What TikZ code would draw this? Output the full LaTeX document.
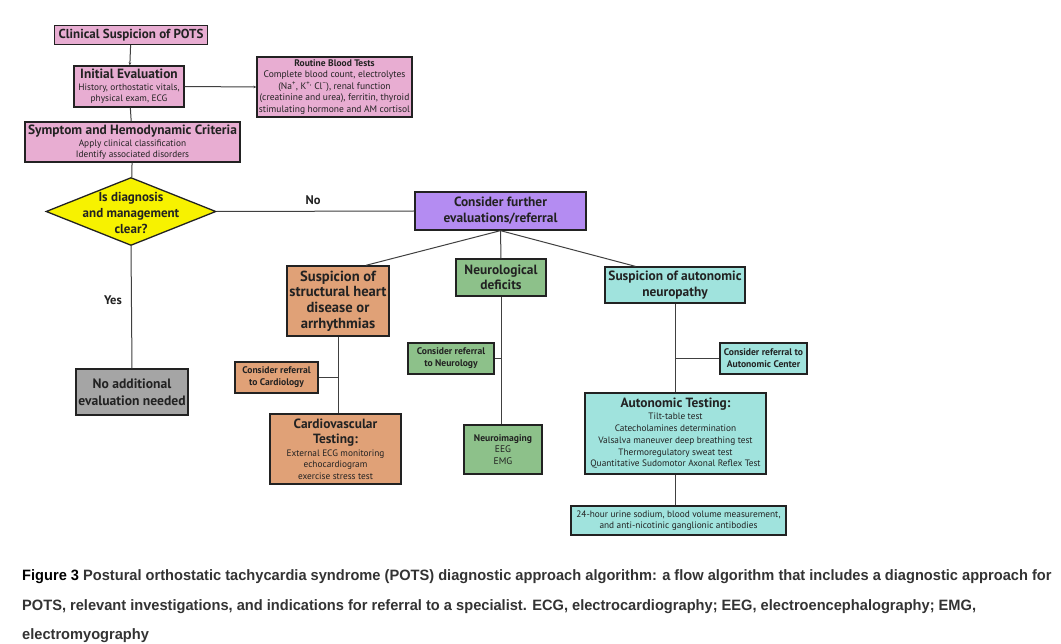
\documentclass[tikz,border=0pt]{standalone}
\usepackage{fontspec}
\setmainfont{PT Sans}
\newfontfamily\capfont[FakeStretch=0.975]{Liberation Sans}
\usetikzlibrary{shapes.geometric,calc,arrows.meta}
\definecolor{pinkf}{HTML}{E8ADD2}
\definecolor{yel}{HTML}{F7F200}
\definecolor{purp}{HTML}{B48CF2}
\definecolor{tanf}{HTML}{E0A177}
\definecolor{grn}{HTML}{8DC18A}
\definecolor{cyn}{HTML}{A0E3DD}
\definecolor{gry}{HTML}{A5A5A5}
\definecolor{ink}{HTML}{222222}
\newcommand\fs[2]{\fontsize{#1}{#2}\selectfont}
\newcommand\ttl{\fs{13.4}{15}\bfseries}
\newcommand\subt{\fs{9.3}{11.8}\mdseries}
\tikzset{
  box/.style={draw=ink, line width=1.3pt, inner sep=0pt, align=center, text=ink},
  conn/.style={draw=black!75, line width=1pt},
  tip/.style={-{Stealth[length=3pt,width=2.6pt]}},
  lbl/.style={inner sep=0pt, text=ink, font=\fs{12.5}{14}\bfseries},
  capline/.style={anchor=base west, inner sep=0pt, text=black!80, font=\capfont\fs{15}{18}\bfseries}
}
\begin{document}
\begin{tikzpicture}[x=1pt,y=-1pt]
\useasboundingbox[fill=white] (0,0) rectangle (1061,644);
% nodes
\node[box,fill=pinkf,minimum width=153pt,minimum height=19pt,font=\fs{13}{14}\bfseries] (clin) at (131,35)
  {Clinical Suspicion of POTS};
\node[box,fill=pinkf,minimum width=110pt,minimum height=41pt,font=\fs{9.3}{11}] (init) at (129,86.5)
  {\ttl Initial Evaluation\\[1pt]\subt History, orthostatic vitals,\\\subt physical exam, ECG};
\node[box,fill=pinkf,minimum width=155pt,minimum height=60pt,font=\fs{9.5}{11.5}] (routine) at (334.5,87)
  {\bfseries Routine Blood Tests\\Complete blood count, electrolytes\\(Na\textsuperscript{+}, K\textsuperscript{+,} Cl\textsuperscript{−}), renal function\\(creatinine and urea), ferritin, thyroid\\stimulating hormone and AM cortisol};
\node[box,fill=pinkf,minimum width=215pt,minimum height=40pt,font=\fs{9.3}{11}] (symp) at (132.5,142)
  {\ttl Symptom and Hemodynamic Criteria\\[1pt]\subt Apply clinical classification\\\subt Identify associated disorders};
\node[box,fill=yel,shape=diamond,minimum width=170pt,minimum height=68pt] (diam) at (131,211.5) {};
\node[inner sep=0pt,align=center,text=ink,font=\fs{13}{16}\bfseries] (diamtxt) at (131,212.5)
  {Is diagnosis\\and management\\clear?};
\node[box,fill=purp,minimum width=171pt,minimum height=38pt,font=\fs{13.4}{16}\bfseries] (further) at (500.5,211)
  {Consider further\\evaluations/referral};
\node[box,fill=gry,minimum width=112pt,minimum height=46pt,font=\fs{13.6}{17}\bfseries] (noadd) at (132,392)
  {No additional\\evaluation needed};
\node[box,fill=tanf,minimum width=102pt,minimum height=70pt,font=\fs{14.6}{15.6}\bfseries] (struct) at (338,301)
  {Suspicion of\\structural heart\\disease or\\arrhythmias};
\node[box,fill=grn,minimum width=90pt,minimum height=37pt,font=\fs{13.4}{15.5}\bfseries] (neuro) at (501,277.5)
  {Neurological\\deficits};
\node[box,fill=cyn,minimum width=140pt,minimum height=36pt,font=\fs{13.4}{15.5}\bfseries] (auto) at (675,285)
  {Suspicion of autonomic\\neuropathy};
\node[box,fill=tanf,minimum width=83pt,minimum height=31pt,font=\fs{9.6}{12}\bfseries] (cardref) at (276.5,377.5)
  {Consider referral\\to Cardiology};
\node[box,fill=tanf,minimum width=131pt,minimum height=70pt,font=\fs{9.3}{11.5}] (cardtest) at (335.5,449)
  {\ttl Cardiovascular\\[4pt]\ttl Testing:\\[1pt]\subt External ECG monitoring\\\subt echocardiogram\\\subt exercise stress test};
\node[box,fill=grn,minimum width=86pt,minimum height=31pt,font=\fs{9.6}{12}\bfseries] (neuref) at (451,358.5)
  {Consider referral\\to Neurology};
\node[box,fill=grn,minimum width=78pt,minimum height=49pt,font=\fs{9.6}{11.5}] (neuimg) at (503,449.5)
  {\bfseries Neuroimaging\\EEG\\EMG};
\node[box,fill=cyn,minimum width=87pt,minimum height=31pt,font=\fs{9.6}{12}\bfseries] (autoref) at (763.5,358.5)
  {Consider referral to\\Autonomic Center};
\node[box,fill=cyn,minimum width=181pt,minimum height=81pt,font=\fs{9.3}{11.8}] (autotest) at (675.5,433.5)
  {\ttl Autonomic Testing:\\[0pt]\subt Tilt-table test\\\subt Catecholamines determination\\\subt Valsalva maneuver deep breathing test\\\subt Thermoregulatory sweat test\\\subt Quantitative Sudomotor Axonal Reflex Test};
\node[box,fill=cyn,minimum width=215pt,minimum height=29pt,font=\fs{9.3}{11.5}] (urine) at (678.5,520.5)
  {24-hour urine sodium, blood volume measurement,\\and anti-nicotinic ganglionic antibodies};
% labels
\node[lbl] (no) at (313,200) {No};
\node[lbl] (yes) at (113,300) {Yes};
% connectors
\draw[conn,tip] (clin) -- (init);
\draw[conn,tip] (init.east) -- (routine.west);
\draw[conn] (init) -- (symp);
\draw[conn] (symp) -- (diam);
\draw[conn] (diam.east) -- (further.west);
\draw[conn] (diam.south) -- (noadd.north);
\draw[conn] (further.south) -- ($(struct.north west)!0.77!(struct.north east)$);
\draw[conn] (further.south) -- (neuro.north);
\draw[conn] (further.south) -- ($(auto.north west)!0.22!(auto.north east)$);
\draw[conn] (struct.south) -- (struct.south |- cardtest.north);
\draw[conn] (cardref.east) -- (cardref.east -| struct.south);
\draw[conn] (neuro.south) -- (neuro.south |- neuimg.north);
\draw[conn] (neuref.east) -- (neuref.east -| neuro.south);
\draw[conn] (auto.south) -- (auto.south |- autotest.north);
\draw[conn] (autoref.west) -- (autoref.west -| auto.south);
\draw[conn] (autotest.south) -- (autotest.south |- urine.north);
% caption
\node[capline] (cap1) at (22,580) {\textcolor{black}{Figure 3} Postural orthostatic tachycardia syndrome (POTS) diagnostic approach algorithm: a flow algorithm that includes a diagnostic approach for};
\node[capline] (cap2) at (22,610) {POTS, relevant investigations, and indications for referral to a specialist. ECG, electrocardiography; EEG, electroencephalography; EMG,};
\node[capline] (cap3) at (22,639) {electromyography};
\end{tikzpicture}
\end{document}
